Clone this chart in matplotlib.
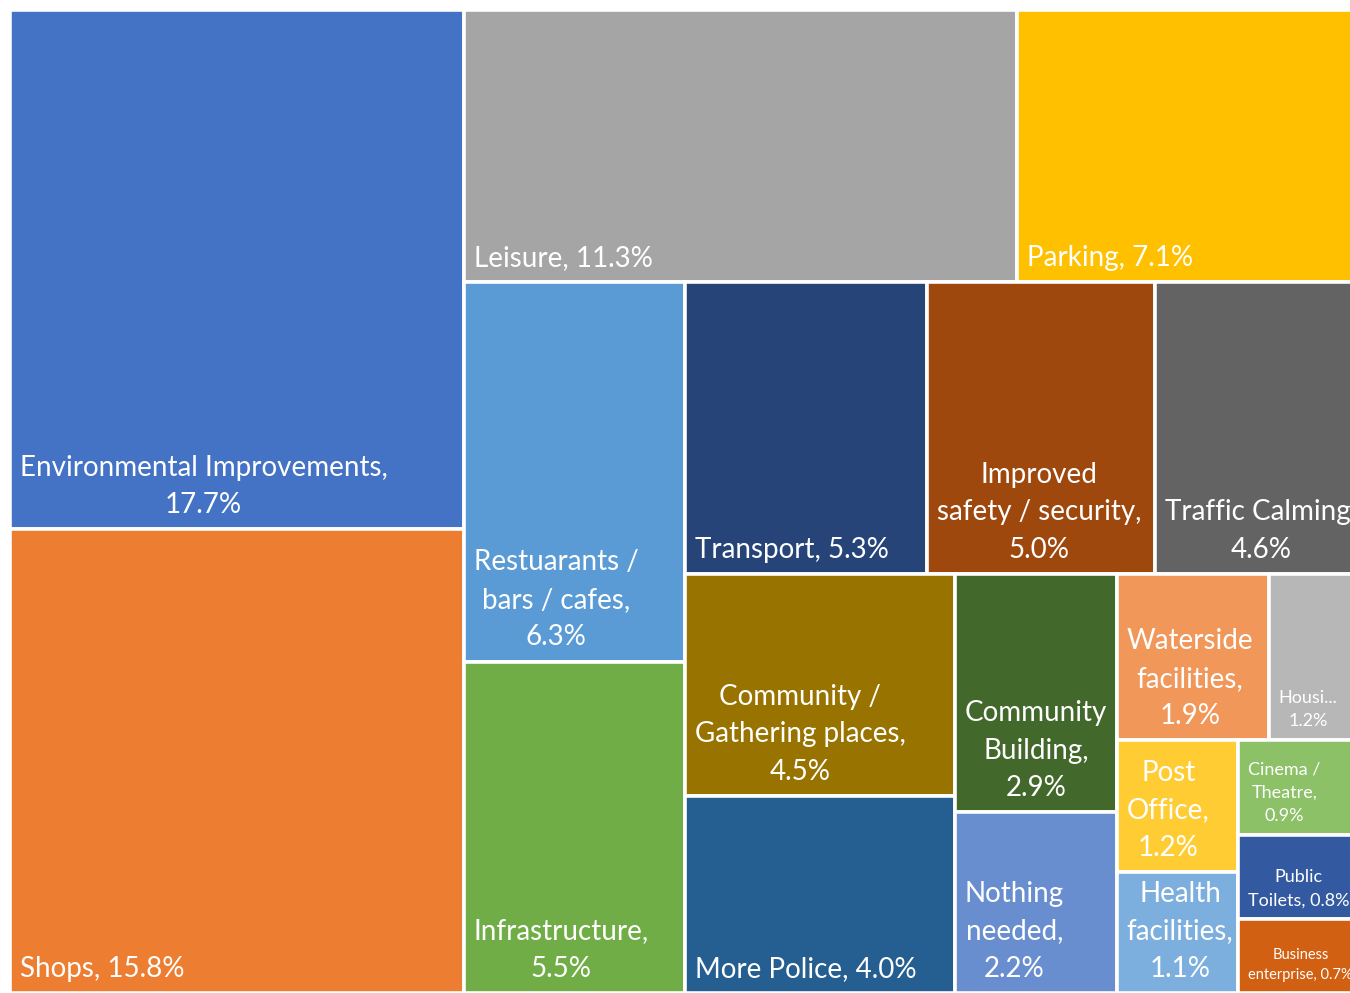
import matplotlib.pyplot as plt
from matplotlib.patches import Rectangle

plt.rcParams['font.family'] = ['Lato', 'DejaVu Sans']

categories = [
    "Environmental Improvements", "Shops", "Leisure", "Parking",
    "Restuarants / bars / cafes", "Infrastructure", "Transport",
    "Improved safety / security", "Traffic Calming",
    "Community / Gathering places", "More Police", "Community Building",
    "Nothing needed", "Waterside facilities", "Housing", "Post Office",
    "Health facilities", "Cinema / Theatre", "Public Toilets",
    "Business enterprise",
]
shares = [17.7, 15.8, 11.3, 7.1, 6.3, 5.5, 5.3, 5.0, 4.6, 4.5,
          4.0, 2.9, 2.2, 1.9, 1.2, 1.2, 1.1, 0.9, 0.8, 0.7]

# label text as it is wrapped in the chart
wrapped_names = [
    "Environmental Improvements,\n", "Shops, ", "Leisure, ", "Parking, ",
    "Restuarants /\nbars / cafes,\n", "Infrastructure,\n", "Transport, ",
    "Improved\nsafety / security,\n", "Traffic Calming,\n",
    "Community /\nGathering places,\n", "More Police, ", "Community\nBuilding,\n",
    "Nothing\nneeded,\n", "Waterside\nfacilities,\n", "Housi...\n",
    "Post\nOffice,\n", "Health\nfacilities,\n", "Cinema /\nTheatre,\n",
    "Public\nToilets, ", "Business\nenterprise, ",
]

colors = [
    "#4472C4", "#ED7D31", "#A5A5A5", "#FFC000", "#5B9BD5", "#70AD47",
    "#264478", "#9E480E", "#636363", "#997300", "#255E91", "#43682B",
    "#698ED0", "#F1975A", "#B7B7B7", "#FFCD33", "#7CAFDD", "#8CC168",
    "#335AA1", "#D26012",
]


def aspect(v, strip_total, unit, side):
    thick = strip_total * unit / side
    length = v / strip_total * side
    return max(thick / length, length / thick)


def strip_layout(vals, x, y, w, h):
    # squarified-style strips, a strip grows while its newest cell gets squarer
    rects = []
    i = 0
    while i < len(vals):
        unit = w * h / sum(vals[i:])
        column = w >= h
        side = h if column else w
        n = 1
        last = aspect(vals[i], vals[i], unit, side)
        while i + n < len(vals):
            r = aspect(vals[i + n], sum(vals[i:i + n + 1]), unit, side)
            if r > last:
                break
            last = r
            n += 1
        group = vals[i:i + n]
        thick = sum(group) * unit / side
        pos = y if column else x
        for v in group:
            length = v / sum(group) * side
            if column:
                rects.append((x, pos, thick, length))
            else:
                rects.append((pos, y, length, thick))
            pos += length
        if column:
            x += thick
            w -= thick
        else:
            y += thick
            h -= thick
        i += n
    return rects


W, H = 142.5, 100.0
rects = strip_layout(shares, 0.0, 0.0, W, H)

fig = plt.figure(figsize=(13.5, 9.93), dpi=100)
ax = fig.add_axes([10 / 1350, 0, 1355 / 1350, 983 / 993])
ax.set_xlim(0, W)
ax.set_ylim(H, 0)
ax.axis("off")

fig.canvas.draw()
renderer = fig.canvas.get_renderer()

for (x, y, w, h), col, name, v in zip(rects, colors, wrapped_names, shares):
    ax.add_patch(Rectangle((x, y), w, h, facecolor=col, edgecolor="white",
                           linewidth=2.6))
    p0 = ax.transData.transform((x, y + h))
    p1 = ax.transData.transform((x + w, y))
    box_w, box_h = abs(p1[0] - p0[0]), abs(p1[1] - p0[1])
    for fs in (20, 13, 10.5):
        t = ax.annotate(name + f"{v:.1f}%", xy=(x, y + h), xytext=(7, 8),
                        textcoords="offset points", ha="left", va="bottom",
                        multialignment="center", color="white", fontsize=fs,
                        linespacing=1.55)
        bb = t.get_window_extent(renderer)
        if bb.width <= box_w - 12 and bb.height <= box_h - 10:
            break
        if fs != 10.5:
            t.remove()

fig.savefig("out.png", dpi=100)
